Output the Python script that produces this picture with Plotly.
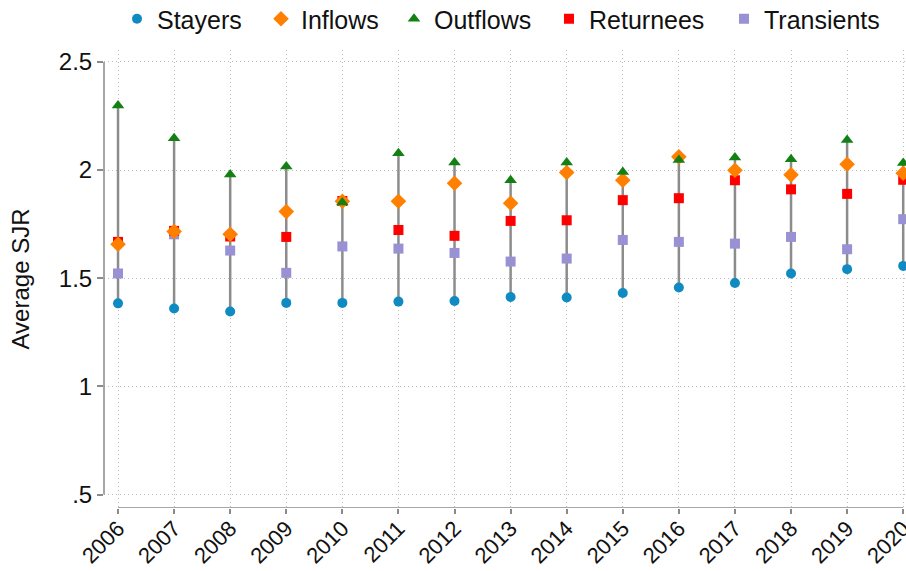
import numpy as np
import plotly.graph_objects as go

years = list(range(2006, 2021))
stayers = [1.384, 1.360, 1.346, 1.386, 1.386, 1.392, 1.395, 1.413, 1.411, 1.432, 1.457, 1.478, 1.522, 1.542, 1.557]
inflows = [1.657, 1.716, 1.703, 1.808, 1.856, 1.856, 1.939, 1.847, 1.989, 1.953, 2.061, 1.999, 1.978, 2.027, 1.985]
outflows = [2.298, 2.147, 1.979, 2.016, 1.850, 2.078, 2.035, 1.953, 2.035, 1.991, 2.046, 2.058, 2.050, 2.139, 2.033]
returnees = [1.668, 1.719, 1.693, 1.691, 1.857, 1.723, 1.696, 1.765, 1.768, 1.861, 1.870, 1.953, 1.911, 1.890, 1.955]
transients = [1.522, 1.703, 1.628, 1.525, 1.647, 1.637, 1.617, 1.577, 1.591, 1.677, 1.668, 1.660, 1.691, 1.634, 1.773]

ytick_vals = [0.5, 1, 1.5, 2, 2.5]
ytick_text = [".5", "1", "1.5", "2", "2.5"]

FONT = "Liberation Sans, Arial, sans-serif"

allv = np.array([stayers, inflows, outflows, returnees, transients])
lo = allv.min(axis=0)
hi = allv.max(axis=0)
lx, ly = [], []
for yr, a, b in zip(years, lo, hi):
    lx += [yr, yr, None]
    ly += [a, b, None]

fig = go.Figure()
fig.add_trace(go.Scatter(x=lx, y=ly, mode="lines", line=dict(color="#8c8c8c", width=2.5),
                         showlegend=False, hoverinfo="skip", cliponaxis=False))

# name, values, symbol, colour, size, legend id, legend x (px from left)
series = [
    ("Stayers", stayers, "circle", "#0f8bc2", 10, "legend", 117),
    ("Transients", transients, "square", "#9891d3", 10, "legend5", 724),
    ("Returnees", returnees, "square", "#ff0000", 10, "legend4", 549),
    ("Inflows", inflows, "diamond", "#ff8000", 12, "legend2", 261),
    ("Outflows", outflows, "triangle-up", "#138013", 11, "legend3", 394),
]
legends = {}
for name, vals, sym, col, sz, lg, lgx in series:
    fig.add_trace(go.Scatter(x=years, y=vals, mode="markers", name=name, legend=lg,
                             showlegend=True,
                             marker=dict(symbol=sym, color=col, size=sz, line=dict(width=0)),
                             cliponaxis=False))
    legends[lg] = dict(visible=True, orientation="h", xref="container", x=lgx / 906, xanchor="left",
                       yref="container", y=1 - 19 / 571, yanchor="middle",
                       font=dict(size=25, family=FONT, color="#111111"), itemsizing="trace",
                       bgcolor="rgba(0,0,0,0)")

ymin, ymax = 0.438, 2.555
fig.add_shape(type="line", xref="x", yref="y", x0=2006, x1=2020, y0=ymin, y1=ymin,
              line=dict(color="#8a8a8a", width=1.5))
fig.add_shape(type="line", xref="paper", yref="y", x0=0, x1=0, y0=0.5, y1=2.5,
              line=dict(color="#8a8a8a", width=1.5))

fig.update_layout(
    width=906, height=571, showlegend=True,
    margin=dict(l=104, r=0, t=50, b=63, autoexpand=False),
    paper_bgcolor="white", plot_bgcolor="white",
    font=dict(family=FONT, size=24, color="#111111"),
    xaxis=dict(range=[2005.75, 2020.05], tickmode="array", tickvals=years,
               ticktext=[str(y) for y in years], tickangle=-45, tickfont=dict(size=22),
               automargin=False, ticklabeloverflow="allow", ticklabelstandoff=-7,
               showline=False, zeroline=False, ticks="outside", ticklen=5,
               tickcolor="#8a8a8a", tickwidth=1.5,
               showgrid=True, gridcolor="#bdbdbd", griddash="1px,3px", gridwidth=1),
    yaxis=dict(range=[ymin, ymax], tickmode="array", tickvals=ytick_vals, ticktext=ytick_text,
               automargin=False, ticklabeloverflow="allow", tickfont=dict(size=24),
               showline=False, zeroline=False, ticks="outside", ticklen=6,
               tickcolor="#8a8a8a", tickwidth=1.5,
               showgrid=True, gridcolor="#bdbdbd", griddash="1px,3px", gridwidth=1,
               title=dict(text="Average SJR", standoff=22, font=dict(size=24))),
)
fig.update_layout(**legends)

fig.write_html("out.html", config={"displayModeBar": False},
               post_script="document.body.style.margin='0px';document.body.style.padding='0px';")
